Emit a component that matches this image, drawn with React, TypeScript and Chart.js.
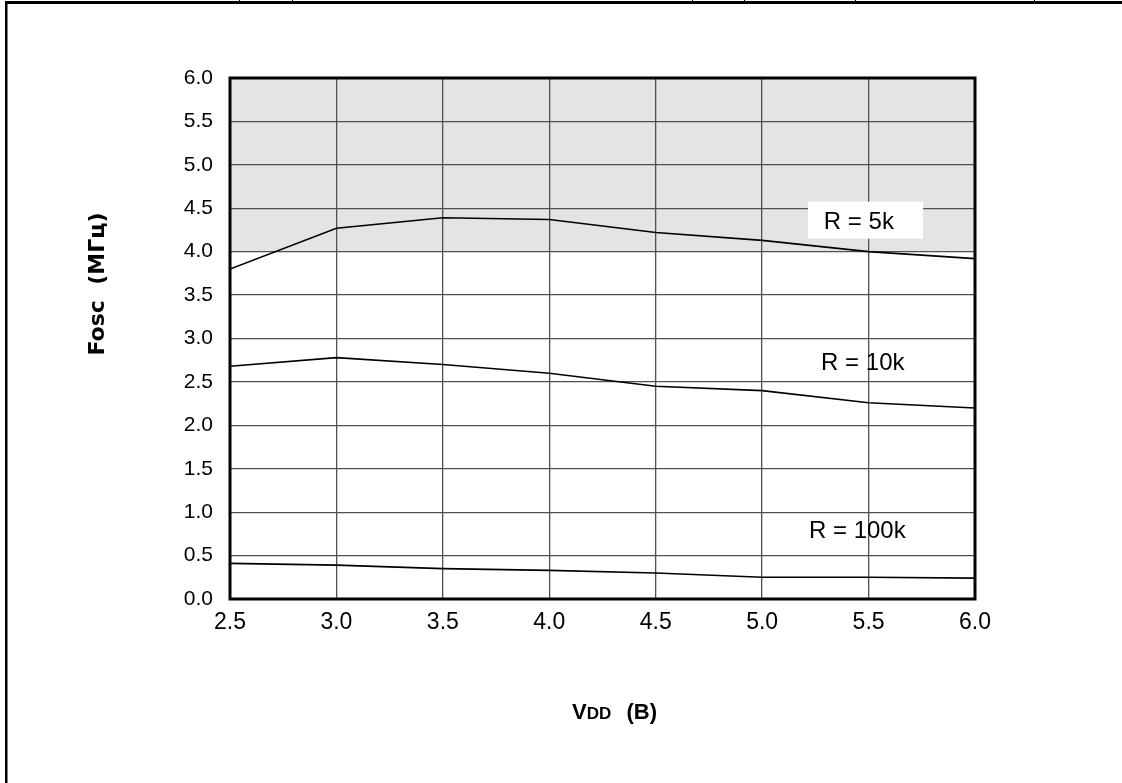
import React, { useEffect, useRef } from "react";
import { Chart, registerables } from "chart.js";

Chart.register(...registerables);

// ---- data ----
const vdd = [2.5, 3.0, 3.5, 4.0, 4.5, 5.0, 5.5, 6.0];
const fosc5k = [3.8, 4.27, 4.39, 4.37, 4.22, 4.13, 4.0, 3.92];
const fosc10k = [2.68, 2.78, 2.7, 2.6, 2.45, 2.4, 2.26, 2.2];
const fosc100k = [0.41, 0.39, 0.35, 0.33, 0.3, 0.25, 0.25, 0.24];
const seriesLabels = ["R = 5k", "R = 10k", "R = 100k"];
const xTickValues = [2.5, 3.0, 3.5, 4.0, 4.5, 5.0, 5.5, 6.0];
const yTickValues = [0, 0.5, 1, 1.5, 2, 2.5, 3, 3.5, 4, 4.5, 5, 5.5, 6];
const shadedBand = [4.0, 6.0];
const yTitle = "Fosc  (МГц)";
const xTitleMain = "V";
const xTitleSub = "DD";
const xTitleUnit = "  (B)";

// label anchor positions (data coords: left edge, baseline)
const labelAnchors = [
  { x: 5.29, y: 4.26, box: { x0: 5.215, x1: 5.756, y0: 4.575, y1: 4.15 } },
  { x: 5.277, y: 2.64, box: null },
  { x: 5.22, y: 0.7, box: null },
];

const pageDecor = {
  id: "pageDecor",
  beforeDraw(chart: any) {
    const { ctx, chartArea, scales } = chart;
    const y = scales.y;
    ctx.save();
    ctx.fillStyle = "#e4e4e4";
    const top = y.getPixelForValue(shadedBand[1]);
    const bot = y.getPixelForValue(shadedBand[0]);
    ctx.fillRect(chartArea.left, top, chartArea.right - chartArea.left, bot - top);
    ctx.restore();
  },
  afterDatasetsDraw(chart: any) {
    const { ctx, chartArea, scales } = chart;
    const xs = scales.x;
    const ys = scales.y;
    ctx.save();
    ctx.font = '24px "Liberation Sans", Arial, sans-serif';
    ctx.textAlign = "left";
    ctx.textBaseline = "alphabetic";
    labelAnchors.forEach((a, i) => {
      if (a.box) {
        ctx.fillStyle = "#ffffff";
        const bx0 = xs.getPixelForValue(a.box.x0);
        const bx1 = xs.getPixelForValue(a.box.x1);
        const by0 = ys.getPixelForValue(a.box.y0);
        const by1 = ys.getPixelForValue(a.box.y1);
        ctx.fillRect(bx0, by0, bx1 - bx0, by1 - by0);
      }
      ctx.fillStyle = "#000000";
      ctx.fillText(seriesLabels[i], xs.getPixelForValue(a.x), ys.getPixelForValue(a.y));
    });
    ctx.strokeStyle = "#000000";
    ctx.lineWidth = 3;
    ctx.strokeRect(chartArea.left, chartArea.top, chartArea.right - chartArea.left, chartArea.bottom - chartArea.top);
    ctx.restore();
  },
  afterDraw(chart: any) {
    const { ctx } = chart;
    ctx.save();
    ctx.fillStyle = "#000000";
    ctx.fillRect(5, 1, 1117, 3);
    ctx.fillRect(5, 1, 2.5, 782);
    [239, 292, 692, 744, 855, 1034].forEach((px) => ctx.fillRect(px, 0, 1, 1));
    // y title
    ctx.save();
    ctx.translate(104, 284);
    ctx.rotate(-Math.PI / 2);
    ctx.font = 'bold 22px "DejaVu Sans", sans-serif';
    ctx.textAlign = "center";
    ctx.textBaseline = "alphabetic";
    ctx.fillText(yTitle, 0, 0);
    ctx.restore();
    // x title
    let x = 572;
    const base = 719;
    ctx.textAlign = "left";
    ctx.textBaseline = "alphabetic";
    ctx.font = 'bold 22px "Liberation Sans", Arial, sans-serif';
    ctx.fillText(xTitleMain, x, base);
    x += ctx.measureText(xTitleMain).width;
    ctx.font = 'bold 17px "Liberation Sans", Arial, sans-serif';
    ctx.fillText(xTitleSub, x, base);
    x += ctx.measureText(xTitleSub).width;
    ctx.font = 'bold 22px "Liberation Sans", Arial, sans-serif';
    ctx.fillText(xTitleUnit, x + 3, base);
    ctx.restore();
  },
};

export default function App() {
  const canvasRef = useRef<HTMLCanvasElement | null>(null);

  useEffect(() => {
    if (!canvasRef.current) return;
    const mk = (vals: number[]) => vdd.map((v, i) => ({ x: v, y: vals[i] }));
    const ds = (vals: number[]) => ({
      data: mk(vals),
      borderColor: "#000000",
      borderWidth: 1.6,
      pointRadius: 0,
      tension: 0,
      fill: false,
    });
    const chart = new Chart(canvasRef.current, {
      type: "line",
      data: { datasets: [ds(fosc5k), ds(fosc10k), ds(fosc100k)] },
      options: {
        animation: false,
        responsive: false,
        events: [],
        layout: { padding: { left: 0, top: 78, right: 147, bottom: 0 } },
        plugins: { legend: { display: false }, tooltip: { enabled: false } },
        scales: {
          x: {
            type: "linear",
            min: 2.5,
            max: 6.0,
            afterBuildTicks: (s: any) => {
              s.ticks = xTickValues.map((v) => ({ value: v }));
            },
            afterFit: (s: any) => {
              s.height = 184;
            },
            grid: { color: "#505050", lineWidth: 1.3, drawTicks: false },
            border: { display: false },
            ticks: {
              color: "#000",
              padding: 10,
              maxRotation: 0,
              font: { family: '"Liberation Sans", Arial, sans-serif', size: 23 },
              callback: (v: any) => Number(v).toFixed(1),
            },
          },
          y: {
            type: "linear",
            min: 0,
            max: 6,
            afterBuildTicks: (s: any) => {
              s.ticks = yTickValues.map((v) => ({ value: v }));
            },
            afterFit: (s: any) => {
              s.width = 230;
            },
            grid: { color: "#505050", lineWidth: 1.3, drawTicks: false },
            border: { display: false },
            ticks: {
              color: "#000",
              padding: 17,
              font: { family: '"Liberation Sans", Arial, sans-serif', size: 21 },
              callback: (v: any) => Number(v).toFixed(1),
            },
          },
        },
      },
      plugins: [pageDecor],
    });
    return () => chart.destroy();
  }, []);

  return (
    <div style={{ position: "absolute", left: 0, top: 0, width: 1122, height: 783, background: "#fff" }}>
      <canvas ref={canvasRef} width={1122} height={783} style={{ display: "block" }} />
    </div>
  );
}
